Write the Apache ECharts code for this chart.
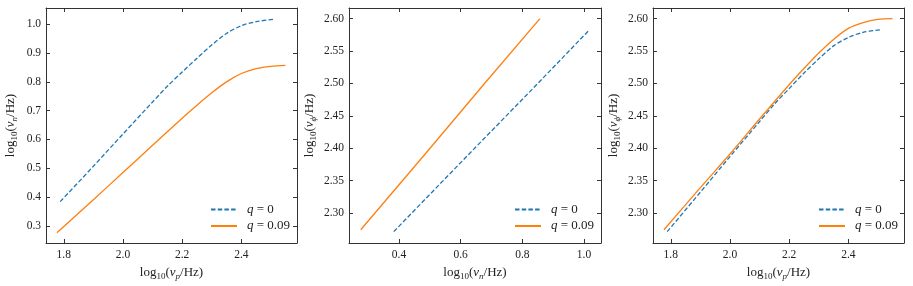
<!DOCTYPE html>
<html>
<head>
<meta charset="utf-8">
<script src="https://cdn.jsdelivr.net/npm/echarts@6/dist/echarts.min.js"></script>
<style>html,body{margin:0;padding:0;background:#fff}#c{width:913px;height:286px}</style>
</head>
<body>
<div id="c"></div>
<script>
// Panel 1: log10(nu_p) vs log10(nu_n)
const p1_x_q0   = [1.788, 1.90, 2.00, 2.10, 2.15, 2.20, 2.25, 2.30, 2.35, 2.40, 2.45, 2.514];
const p1_y_q0   = [0.384, 0.507, 0.619, 0.730, 0.785, 0.834, 0.882, 0.928, 0.968, 0.995, 1.009, 1.018];
const p1_x_q009 = [1.777, 1.90, 2.00, 2.10, 2.20, 2.25, 2.30, 2.35, 2.40, 2.45, 2.50, 2.549];
const p1_y_q009 = [0.276, 0.391, 0.485, 0.580, 0.674, 0.719, 0.762, 0.800, 0.829, 0.846, 0.854, 0.857];
// Panel 2: log10(nu_n) vs log10(nu_phi)
const p2_x_q0   = [0.383, 0.619, 0.834, 1.018];
const p2_y_q0   = [2.271, 2.387, 2.492, 2.583];
const p2_x_q009 = [0.276, 0.485, 0.674, 0.857];
const p2_y_q009 = [2.274, 2.391, 2.498, 2.600];
// Panel 3: log10(nu_p) vs log10(nu_phi)
const p3_x_q0   = [1.788, 1.90, 2.00, 2.10, 2.15, 2.20, 2.25, 2.30, 2.35, 2.40, 2.45, 2.514];
const p3_y_q0   = [2.271, 2.332, 2.387, 2.441, 2.468, 2.492, 2.516, 2.538, 2.558, 2.571, 2.579, 2.583];
const p3_x_q009 = [1.777, 1.90, 2.00, 2.10, 2.20, 2.25, 2.30, 2.35, 2.40, 2.45, 2.50, 2.549];
const p3_y_q009 = [2.274, 2.339, 2.391, 2.445, 2.498, 2.523, 2.547, 2.568, 2.585, 2.594, 2.599, 2.600];

const seriesNames = ['q = 0', 'q = 0.09'];
const colors = ['#1f77b4', '#ff7f0e'];

const FONT = '"Liberation Serif", "DejaVu Serif", serif';
const AX = '#333';

const pairs = (xs, ys) => xs.map((x, i) => [x, ys[i]]);

const nameRich = {
  n: {fontFamily: FONT, fontSize: 13, color: '#222', lineHeight: 17, verticalAlign: 'middle'},
  i: {fontFamily: FONT, fontSize: 13, color: '#222', fontStyle: 'italic', lineHeight: 17, verticalAlign: 'middle'},
  s: {fontFamily: FONT, fontSize: 9, color: '#222', lineHeight: 9, verticalAlign: 'bottom'},
  si: {fontFamily: FONT, fontSize: 9, color: '#222', fontStyle: 'italic', lineHeight: 9, verticalAlign: 'bottom'}
};
const axName = (v, sub) => '{n|log}{s|10}{n|(}{i|' + v + '}{si|' + sub + '}{n|/Hz)}';

const grids = [
  {left: 46, top: 8, width: 251, height: 235},
  {left: 349, top: 8, width: 252, height: 235},
  {left: 653, top: 8, width: 251, height: 235}
];

const xr = [
  {min: 1.74, max: 2.588, iv: 0.2, dec: 1, name: axName('ν', 'p')},
  {min: 0.238, max: 1.055, iv: 0.2, dec: 1, name: axName('ν', 'n')},
  {min: 1.74, max: 2.588, iv: 0.2, dec: 1, name: axName('ν', 'p')}
];
const yr = [
  {min: 0.2405, max: 1.0565, iv: 0.1, dec: 1, name: axName('ν', 'n'), gap: 27},
  {min: 2.2535, max: 2.6165, iv: 0.05, dec: 2, name: axName('ν', 'ϕ'), gap: 31},
  {min: 2.2535, max: 2.6165, iv: 0.05, dec: 2, name: axName('ν', 'ϕ'), gap: 31}
];

const xAxes = [], yAxes = [];
const common = (r) => ({
  type: 'value', min: r.min, max: r.max,
  minInterval: r.iv, maxInterval: r.iv, splitNumber: 5,
  axisLine: {show: true, onZero: false, lineStyle: {color: AX, width: 1}},
  axisTick: {show: true, inside: true, length: 4, lineStyle: {color: AX, width: 1}},
  splitLine: {show: false}
});
for (let g = 0; g < 3; g++) {
  xAxes.push(Object.assign(common(xr[g]), {
    gridIndex: g, position: 'bottom',
    name: xr[g].name, nameLocation: 'middle', nameGap: 19,
    nameTextStyle: {rich: nameRich},
    axisLabel: {show: true, margin: 6, fontFamily: FONT, fontSize: 11.5, color: '#222',
      showMinLabel: false, showMaxLabel: false,
      formatter: (v) => {
        const k = Math.round(v / xr[g].iv);
        if (Math.abs(v - k * xr[g].iv) > 1e-6) return '';
        return v.toFixed(xr[g].dec);
      }}
  }));
  xAxes.push(Object.assign(common(xr[g]), {
    gridIndex: g, position: 'top', axisLabel: {show: false}
  }));
  yAxes.push(Object.assign(common(yr[g]), {
    gridIndex: g, position: 'left',
    name: yr[g].name, nameLocation: 'middle', nameGap: yr[g].gap,
    nameTextStyle: {rich: nameRich},
    axisLabel: {show: true, margin: 5, fontFamily: FONT, fontSize: 11.5, color: '#222',
      showMinLabel: false, showMaxLabel: false,
      formatter: (v) => {
        const k = Math.round(v / yr[g].iv);
        if (Math.abs(v - k * yr[g].iv) > 1e-6) return '';
        return v.toFixed(yr[g].dec);
      }}
  }));
  yAxes.push(Object.assign(common(yr[g]), {
    gridIndex: g, position: 'right', axisLabel: {show: false}
  }));
}

const panelData = [
  [pairs(p1_x_q0, p1_y_q0), pairs(p1_x_q009, p1_y_q009)],
  [pairs(p2_x_q0, p2_y_q0), pairs(p2_x_q009, p2_y_q009)],
  [pairs(p3_x_q0, p3_y_q0), pairs(p3_x_q009, p3_y_q009)]
];
const series = [];
for (let g = 0; g < 3; g++) {
  for (let s = 0; s < 2; s++) {
    series.push({
      type: 'line', name: seriesNames[s],
      xAxisIndex: 2 * g, yAxisIndex: 2 * g,
      data: panelData[g][s],
      symbol: 'none', smooth: g === 1 ? false : 0.3,
      lineStyle: {color: colors[s], width: 1.3, type: s === 0 ? [4.5, 2.2] : 'solid'},
      itemStyle: {color: colors[s]},
      animation: false
    });
  }
}

const legendLefts = [205, 509, 813];
const legends = legendLefts.map(l => ({
  left: l, top: 198, orient: 'vertical',
  itemWidth: 26, itemHeight: 14, itemGap: 3.5,
  data: seriesNames,
  selectedMode: false,
  itemStyle: {opacity: 0},
  formatter: (n) => n === 'q = 0' ? '{i|q}{n| = 0}' : '{i|q}{n| = 0.09}',
  textStyle: {rich: {
    i: {fontFamily: FONT, fontSize: 13, fontStyle: 'italic', color: '#222', padding: [0, 0, 0, 5], lineHeight: 14},
    n: {fontFamily: FONT, fontSize: 13, color: '#222', lineHeight: 14}
  }}
}));

const chart = echarts.init(document.getElementById('c'), null, {renderer: 'canvas'});
chart.setOption({
  animation: false,
  backgroundColor: '#fff',
  grid: grids,
  xAxis: xAxes,
  yAxis: yAxes,
  legend: legends,
  series: series
});
</script>
</body>
</html>
